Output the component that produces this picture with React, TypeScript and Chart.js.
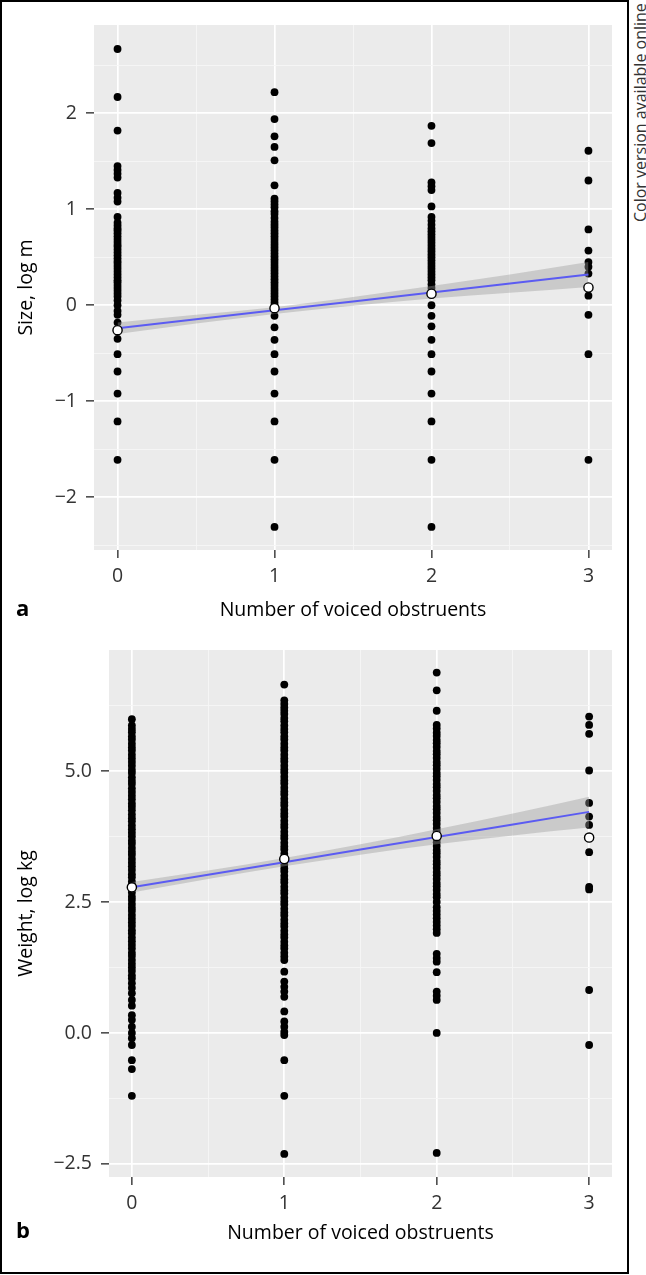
import React, { useEffect, useRef } from 'react';
import { Chart, registerables } from 'chart.js';

Chart.register(...registerables);

// ---------- data ----------
const voicedCounts = [0, 1, 2, 3];

// Panel a: Size, log m
const sizeAt0 = [2.67, 2.17, 1.82, 1.45, 1.41, 1.37, 1.33, 1.17, 1.12, 1.08, 0.92, 0.86, 0.83, 0.8, 0.78, 0.75, 0.72, 0.69, 0.66, 0.63, 0.61, 0.58, 0.55, 0.52, 0.49, 0.46, 0.44, 0.41, 0.38, 0.35, 0.32, 0.29, 0.26, 0.24, 0.21, 0.18, 0.15, 0.12, 0.09, 0.05, 0.0, -0.06, -0.1, -0.18, -0.26, -0.35, -0.51, -0.69, -0.92, -1.21, -1.61];
const sizeAt1 = [2.22, 1.94, 1.76, 1.65, 1.51, 1.25, 1.11, 1.08, 1.05, 1.02, 0.98, 0.95, 0.91, 0.87, 0.84, 0.81, 0.78, 0.75, 0.72, 0.69, 0.66, 0.63, 0.6, 0.57, 0.54, 0.51, 0.48, 0.45, 0.42, 0.39, 0.36, 0.33, 0.3, 0.27, 0.24, 0.21, 0.18, 0.15, 0.12, 0.09, 0.06, 0.03, 0.0, -0.11, -0.23, -0.36, -0.51, -0.69, -0.92, -1.21, -1.61, -2.31];
const sizeAt2 = [1.87, 1.69, 1.28, 1.24, 1.2, 1.03, 0.92, 0.88, 0.84, 0.8, 0.77, 0.74, 0.71, 0.68, 0.65, 0.62, 0.59, 0.56, 0.53, 0.5, 0.47, 0.44, 0.41, 0.38, 0.35, 0.32, 0.29, 0.26, 0.22, 0.18, 0.14, 0.0, -0.11, -0.22, -0.36, -0.51, -0.69, -0.92, -1.21, -1.61, -2.31];
const sizeAt3 = [1.61, 1.3, 0.79, 0.57, 0.45, 0.4, 0.33, 0.1, -0.1, -0.51, -1.61];
const sizeMeans = [-0.26, -0.03, 0.12, 0.185];

const fitX = [0, 0.5, 1, 1.5, 2, 2.5, 3];
const sizeFit = [-0.24, -0.147, -0.053, 0.04, 0.133, 0.227, 0.32];
const sizeUpper = [-0.18, -0.1, -0.02, 0.085, 0.2, 0.32, 0.45];
const sizeLower = [-0.3, -0.19, -0.09, -0.005, 0.07, 0.13, 0.19];

// Panel b: Weight, log kg
const weightAt0 = [5.99, 5.87, 5.8, 5.74, 5.66, 5.6, 5.52, 5.45, 5.39, 5.31, 5.24, 5.17, 5.1, 5.02, 4.96, 4.88, 4.81, 4.75, 4.67, 4.6, 4.53, 4.46, 4.38, 4.32, 4.25, 4.17, 4.1, 4.04, 3.96, 3.89, 3.82, 3.75, 3.67, 3.61, 3.53, 3.46, 3.4, 3.32, 3.25, 3.18, 3.11, 3.03, 2.97, 2.89, 2.82, 2.75, 2.68, 2.6, 2.54, 2.46, 2.39, 2.33, 2.25, 2.18, 2.11, 2.04, 1.96, 1.9, 1.82, 1.75, 1.68, 1.61, 1.53, 1.47, 1.39, 1.32, 1.25, 1.18, 1.1, 1.04, 0.95, 0.86, 0.76, 0.63, 0.52, 0.34, 0.25, 0.12, 0.0, -0.1, -0.23, -0.52, -0.69, -1.2];
const weightAt1 = [6.65, 6.35, 6.28, 6.21, 6.15, 6.09, 6.01, 5.95, 5.87, 5.8, 5.74, 5.66, 5.6, 5.52, 5.45, 5.39, 5.31, 5.24, 5.18, 5.1, 5.03, 4.97, 4.89, 4.82, 4.76, 4.68, 4.61, 4.55, 4.47, 4.4, 4.34, 4.26, 4.19, 4.13, 4.05, 3.98, 3.92, 3.84, 3.77, 3.71, 3.63, 3.56, 3.5, 3.42, 3.35, 3.29, 3.21, 3.14, 3.08, 3.0, 2.93, 2.87, 2.79, 2.72, 2.66, 2.58, 2.51, 2.45, 2.37, 2.3, 2.24, 2.16, 2.09, 2.03, 1.95, 1.88, 1.82, 1.74, 1.67, 1.61, 1.53, 1.46, 1.39, 1.17, 0.98, 0.88, 0.79, 0.69, 0.41, 0.22, 0.12, 0.02, -0.04, -0.52, -1.2, -2.31];
const weightAt2 = [6.88, 6.54, 6.15, 5.88, 5.81, 5.73, 5.67, 5.59, 5.53, 5.46, 5.38, 5.32, 5.25, 5.17, 5.11, 5.04, 4.96, 4.9, 4.83, 4.75, 4.69, 4.62, 4.54, 4.48, 4.41, 4.33, 4.27, 4.2, 4.12, 4.06, 3.99, 3.91, 3.85, 3.78, 3.7, 3.64, 3.57, 3.49, 3.43, 3.36, 3.28, 3.22, 3.15, 3.07, 3.01, 2.94, 2.86, 2.8, 2.73, 2.65, 2.59, 2.5, 2.4, 2.33, 2.26, 2.19, 2.12, 2.05, 1.98, 1.91, 1.51, 1.43, 1.36, 1.16, 0.79, 0.71, 0.63, 0.0, -2.29];
const weightAt3 = [6.04, 5.88, 5.71, 5.01, 4.39, 4.13, 3.97, 3.45, 2.79, 2.74, 0.82, -0.23];
const weightMeans = [2.78, 3.32, 3.76, 3.73];

const weightFit = [2.78, 3.02, 3.26, 3.5, 3.74, 3.98, 4.22];
const weightUpper = [2.88, 3.1, 3.34, 3.6, 3.89, 4.19, 4.51];
const weightLower = [2.68, 2.94, 3.18, 3.4, 3.6, 3.77, 3.92];

// Ticks
const xMajorTicks = [0, 1, 2, 3];
const xTickLabels = ['0', '1', '2', '3'];
const xMinorTicks = [0.5, 1.5, 2.5];

const sizeMajorTicks = [-2, -1, 0, 1, 2];
const sizeTickLabels = ['\u22122', '\u22121', '0', '1', '2'];
const sizeMinorTicks = [-2.5, -1.5, -0.5, 0.5, 1.5, 2.5];

const weightMajorTicks = [-2.5, 0, 2.5, 5];
const weightTickLabels = ['\u22122.5', '0.0', '2.5', '5.0'];
const weightMinorTicks = [-1.25, 1.25, 3.75, 6.25];

// ---------- helpers ----------
const FONT = '"Open Sans", "DejaVu Sans", sans-serif';

const panelBg = {
  id: 'panelBg',
  beforeDraw(chart: any) {
    const { ctx, chartArea } = chart;
    if (!chartArea) return;
    ctx.save();
    ctx.fillStyle = '#EBEBEB';
    ctx.fillRect(chartArea.left, chartArea.top, chartArea.right - chartArea.left, chartArea.bottom - chartArea.top);
    ctx.restore();
  },
};

function near(list: number[], v: number) {
  return list.findIndex((m) => Math.abs(m - v) < 1e-9);
}

function axisOptions(opts: {
  major: number[];
  labels: string[];
  minor: number[];
  min: number;
  max: number;
  title: string;
  titlePad: any;
  afterFit: (s: any) => void;
  tickPad: number;
}) {
  const { major, labels, minor } = opts;
  const isMajor = (c: any) => c && c.tick && near(major, c.tick.value) >= 0;
  return {
    type: 'linear',
    min: opts.min,
    max: opts.max,
    afterBuildTicks: (scale: any) => {
      scale.ticks = [...major, ...minor].sort((a, b) => a - b).map((v) => ({ value: v }));
    },
    afterFit: opts.afterFit,
    border: { display: false },
    grid: {
      color: (c: any) => (isMajor(c) ? '#FFFFFF' : '#F6F6F6'),
      lineWidth: (c: any) => (isMajor(c) ? 1.7 : 0.9),
      tickColor: (c: any) => (isMajor(c) ? '#333333' : 'rgba(0,0,0,0)'),
      tickLength: 8,
      tickWidth: 1.4,
      drawTicks: true,
    },
    ticks: {
      autoSkip: false,
      maxRotation: 0,
      padding: opts.tickPad,
      color: '#333333',
      font: { family: FONT, size: 19.5 },
      callback: (value: number) => {
        const i = near(major, value);
        return i >= 0 ? labels[i] : '';
      },
    },
    title: {
      display: true,
      text: opts.title,
      color: '#000000',
      font: { family: FONT, size: 19.5 },
      padding: opts.titlePad,
    },
  };
}

type PanelProps = {
  columns: number[][];
  means: number[];
  fit: number[];
  upper: number[];
  lower: number[];
  yMin: number;
  yMax: number;
  yMajor: number[];
  yLabels: string[];
  yMinor: number[];
  yTitle: string;
  yAxisWidth: number;
  top: number;
  padTop: number;
  xAxisHeight: number;
  xTitlePad: number;
};

const CW = 625;
const CH = 640;

function ScatterPanel(p: PanelProps) {
  const ref = useRef<HTMLCanvasElement | null>(null);
  useEffect(() => {
    if (!ref.current) return;
    const points = p.columns.flatMap((col, i) => col.map((v) => ({ x: voicedCounts[i], y: v })));
    const meanPts = p.means.map((v, i) => ({ x: voicedCounts[i], y: v }));
    const fitPts = fitX.map((x, i) => ({ x, y: p.fit[i] }));
    const upPts = fitX.map((x, i) => ({ x, y: p.upper[i] }));
    const loPts = fitX.map((x, i) => ({ x, y: p.lower[i] }));

    const chart = new Chart(ref.current, {
      type: 'scatter',
      data: {
        datasets: [
          {
            type: 'line',
            data: loPts,
            borderWidth: 0,
            borderColor: 'rgba(0,0,0,0)',
            pointRadius: 0,
            fill: false,
            cubicInterpolationMode: 'monotone',
            order: 3,
          } as any,
          {
            type: 'line',
            data: upPts,
            borderWidth: 0,
            borderColor: 'rgba(0,0,0,0)',
            backgroundColor: 'rgba(153,153,153,0.4)',
            pointRadius: 0,
            fill: '-1',
            cubicInterpolationMode: 'monotone',
            order: 3,
          } as any,
          {
            type: 'scatter',
            data: points,
            pointRadius: 3.9,
            pointBorderWidth: 0,
            backgroundColor: '#000000',
            borderColor: '#000000',
            order: 5,
          } as any,
          {
            type: 'line',
            data: fitPts,
            borderColor: '#5B5BF2',
            borderWidth: 2,
            pointRadius: 0,
            fill: false,
            order: 2,
          } as any,
          {
            type: 'scatter',
            data: meanPts,
            pointRadius: 4.6,
            pointBorderWidth: 1.4,
            backgroundColor: '#FFFFFF',
            borderColor: '#000000',
            order: 1,
          } as any,
        ],
      },
      options: {
        animation: false,
        responsive: false,
        devicePixelRatio: 1,
        events: [],
        layout: { padding: { left: 0, top: p.padTop, right: 13, bottom: 0 } },
        plugins: {
          legend: { display: false },
          tooltip: { enabled: false },
        },
        scales: {
          x: axisOptions({
            major: xMajorTicks,
            labels: xTickLabels,
            minor: xMinorTicks,
            min: -0.15,
            max: 3.15,
            title: 'Number of voiced obstruents',
            titlePad: { top: 0, bottom: p.xTitlePad },
            afterFit: (s: any) => {
              s.height = p.xAxisHeight;
            },
            tickPad: 7,
          }) as any,
          y: axisOptions({
            major: p.yMajor,
            labels: p.yLabels,
            minor: p.yMinor,
            min: p.yMin,
            max: p.yMax,
            title: p.yTitle,
            titlePad: { top: 15, bottom: 0 },
            afterFit: (s: any) => {
              s.width = p.yAxisWidth;
            },
            tickPad: 9,
          }) as any,
        },
      },
      plugins: [panelBg],
    } as any);
    return () => chart.destroy();
  }, []);
  return (
    <canvas
      ref={ref}
      width={CW}
      height={CH}
      style={{ position: 'absolute', left: 0, top: p.top, width: CW, height: CH, display: 'block' }}
    />
  );
}

export default function App() {
  return (
    <div
      style={{
        position: 'absolute',
        left: 0,
        top: 0,
        width: 646,
        height: 1275,
        background: '#FFFFFF',
        overflow: 'hidden',
        fontFamily: FONT,
      }}
    >
      <ScatterPanel
        columns={[sizeAt0, sizeAt1, sizeAt2, sizeAt3]}
        means={sizeMeans}
        fit={sizeFit}
        upper={sizeUpper}
        lower={sizeLower}
        yMin={-2.55}
        yMax={2.92}
        yMajor={sizeMajorTicks}
        yLabels={sizeTickLabels}
        yMinor={sizeMinorTicks}
        yTitle="Size, log m"
        yAxisWidth={94}
        top={0}
        padTop={25}
        xAxisHeight={90}
        xTitlePad={18}
      />
      <ScatterPanel
        columns={[weightAt0, weightAt1, weightAt2, weightAt3]}
        means={weightMeans}
        fit={weightFit}
        upper={weightUpper}
        lower={weightLower}
        yMin={-2.75}
        yMax={7.31}
        yMajor={weightMajorTicks}
        yLabels={weightTickLabels}
        yMinor={weightMinorTicks}
        yTitle="Weight, log kg"
        yAxisWidth={109}
        top={626}
        padTop={24}
        xAxisHeight={89}
        xTitlePad={21}
      />
      <div
        style={{
          position: 'absolute',
          left: 16,
          top: 596,
          fontSize: 22,
          lineHeight: '22px',
          fontWeight: 700,
          color: '#000',
        }}
      >
        a
      </div>
      <div
        style={{
          position: 'absolute',
          left: 16,
          top: 1218,
          fontSize: 22,
          lineHeight: '22px',
          fontWeight: 700,
          color: '#000',
        }}
      >
        b
      </div>
      <div
        style={{
          position: 'absolute',
          left: 0,
          top: 0,
          width: 629,
          height: 1274,
          boxSizing: 'border-box',
          border: '2px solid #000',
          pointerEvents: 'none',
        }}
      />
      <div
        style={{
          position: 'absolute',
          left: 632,
          top: 222,
          fontSize: 16,
          lineHeight: '16px',
          whiteSpace: 'nowrap',
          color: '#333',
          transformOrigin: 'left top',
          transform: 'rotate(-90deg)',
        }}
      >
        Color version available online
      </div>
    </div>
  );
}
